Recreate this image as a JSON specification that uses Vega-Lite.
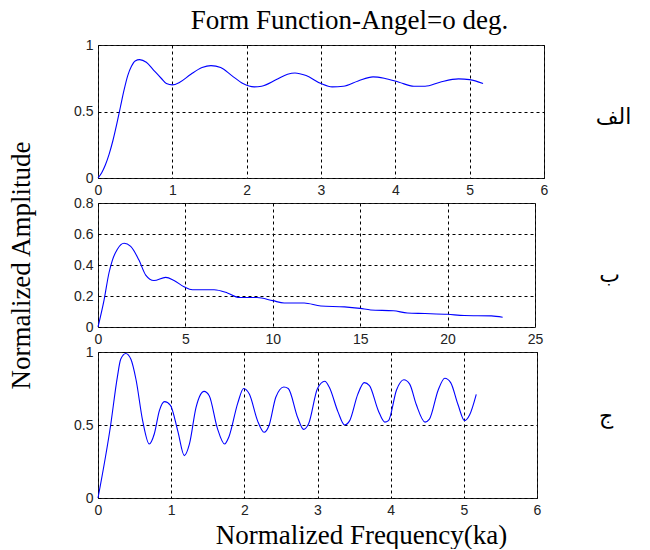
{
  "$schema": "https://vega.github.io/schema/vega-lite/v6.json",
  "padding": {"left": 7, "top": 6, "right": 0, "bottom": 0},
  "background": "white",
  "title": {"text": "Form Function-Angel=o deg.", "font": "Liberation Serif, serif", "fontSize": 27, "fontWeight": "normal", "color": "#000", "anchor": "middle", "dx": 30, "offset": 3},
  "datasets": {
    "a": [
      {"x": 0, "y": 0}, {"x": 0.05, "y": 0.04}, {"x": 0.1, "y": 0.1}, {"x": 0.15, "y": 0.18}, {"x": 0.2, "y": 0.28},
      {"x": 0.25, "y": 0.4}, {"x": 0.3, "y": 0.53}, {"x": 0.35, "y": 0.66}, {"x": 0.4, "y": 0.77}, {"x": 0.45, "y": 0.84},
      {"x": 0.5, "y": 0.88}, {"x": 0.56, "y": 0.89}, {"x": 0.65, "y": 0.87}, {"x": 0.75, "y": 0.81}, {"x": 0.85, "y": 0.75},
      {"x": 0.92, "y": 0.71}, {"x": 1.0, "y": 0.7}, {"x": 1.1, "y": 0.72}, {"x": 1.25, "y": 0.78}, {"x": 1.4, "y": 0.83},
      {"x": 1.52, "y": 0.845}, {"x": 1.65, "y": 0.83}, {"x": 1.8, "y": 0.77}, {"x": 1.95, "y": 0.71}, {"x": 2.1, "y": 0.685},
      {"x": 2.2, "y": 0.69}, {"x": 2.4, "y": 0.74}, {"x": 2.55, "y": 0.78}, {"x": 2.65, "y": 0.79}, {"x": 2.8, "y": 0.77},
      {"x": 3.0, "y": 0.71}, {"x": 3.15, "y": 0.685}, {"x": 3.3, "y": 0.69}, {"x": 3.5, "y": 0.73}, {"x": 3.7, "y": 0.76},
      {"x": 3.85, "y": 0.75}, {"x": 4.05, "y": 0.72}, {"x": 4.25, "y": 0.69}, {"x": 4.4, "y": 0.69}, {"x": 4.6, "y": 0.72},
      {"x": 4.85, "y": 0.745}, {"x": 5.0, "y": 0.74}, {"x": 5.18, "y": 0.71}
    ],
    "b": [
      {"x": 0, "y": 0}, {"x": 0.34, "y": 0.17}, {"x": 0.63, "y": 0.35}, {"x": 0.82, "y": 0.43}, {"x": 1.1, "y": 0.5},
      {"x": 1.49, "y": 0.54}, {"x": 1.87, "y": 0.52}, {"x": 2.35, "y": 0.43}, {"x": 2.73, "y": 0.335}, {"x": 3.2, "y": 0.3},
      {"x": 3.87, "y": 0.32}, {"x": 4.35, "y": 0.3}, {"x": 4.92, "y": 0.26}, {"x": 5.4, "y": 0.24}, {"x": 6.64, "y": 0.24},
      {"x": 7.4, "y": 0.22}, {"x": 8.07, "y": 0.19}, {"x": 9.1, "y": 0.19}, {"x": 10, "y": 0.17}, {"x": 10.65, "y": 0.155},
      {"x": 11.8, "y": 0.155}, {"x": 12.75, "y": 0.135}, {"x": 14.1, "y": 0.13}, {"x": 15, "y": 0.12}, {"x": 15.6, "y": 0.11},
      {"x": 16.9, "y": 0.105}, {"x": 17.7, "y": 0.09}, {"x": 18.7, "y": 0.087}, {"x": 20, "y": 0.082}, {"x": 20.95, "y": 0.074},
      {"x": 22.5, "y": 0.072}, {"x": 23.15, "y": 0.063}
    ],
    "c": [
      {"x": 0, "y": 0}, {"x": 0.17, "y": 0.49}, {"x": 0.265, "y": 0.83}, {"x": 0.31, "y": 0.95}, {"x": 0.38, "y": 0.99},
      {"x": 0.45, "y": 0.95}, {"x": 0.52, "y": 0.81}, {"x": 0.61, "y": 0.53}, {"x": 0.7, "y": 0.37}, {"x": 0.77, "y": 0.44},
      {"x": 0.84, "y": 0.6}, {"x": 0.91, "y": 0.66}, {"x": 0.99, "y": 0.635}, {"x": 1.09, "y": 0.46}, {"x": 1.18, "y": 0.29},
      {"x": 1.25, "y": 0.37}, {"x": 1.34, "y": 0.62}, {"x": 1.45, "y": 0.73}, {"x": 1.52, "y": 0.7}, {"x": 1.63, "y": 0.48},
      {"x": 1.73, "y": 0.37}, {"x": 1.79, "y": 0.42}, {"x": 1.91, "y": 0.65}, {"x": 1.99, "y": 0.75}, {"x": 2.07, "y": 0.71},
      {"x": 2.18, "y": 0.53}, {"x": 2.27, "y": 0.45}, {"x": 2.34, "y": 0.5}, {"x": 2.43, "y": 0.69}, {"x": 2.54, "y": 0.76},
      {"x": 2.6, "y": 0.75}, {"x": 2.73, "y": 0.55}, {"x": 2.81, "y": 0.47}, {"x": 2.88, "y": 0.51}, {"x": 3.0, "y": 0.75},
      {"x": 3.1, "y": 0.8}, {"x": 3.16, "y": 0.76}, {"x": 3.28, "y": 0.59}, {"x": 3.37, "y": 0.5}, {"x": 3.44, "y": 0.53},
      {"x": 3.55, "y": 0.71}, {"x": 3.64, "y": 0.79}, {"x": 3.71, "y": 0.77}, {"x": 3.83, "y": 0.6}, {"x": 3.92, "y": 0.52},
      {"x": 3.97, "y": 0.53}, {"x": 4.08, "y": 0.74}, {"x": 4.18, "y": 0.81}, {"x": 4.26, "y": 0.78}, {"x": 4.35, "y": 0.64},
      {"x": 4.47, "y": 0.52}, {"x": 4.53, "y": 0.54}, {"x": 4.65, "y": 0.74}, {"x": 4.74, "y": 0.82}, {"x": 4.82, "y": 0.79},
      {"x": 4.92, "y": 0.64}, {"x": 5.01, "y": 0.53}, {"x": 5.08, "y": 0.57}, {"x": 5.17, "y": 0.71}
    ]
  },
  "vconcat": [
    {
      "width": 446, "height": 133,
      "data": {"name": "a"},
      "title": {"text": "الف", "orient": "right", "angle": 0, "align": "center", "baseline": "middle", "font": "DejaVu Sans", "fontSize": 22, "fontWeight": "normal", "color": "#000", "offset": 30, "dy": 5},
      "mark": {"type": "line", "color": "#0000ff", "strokeWidth": 1.1, "interpolate": "monotone"},
      "encoding": {
        "x": {"field": "x", "type": "quantitative", "scale": {"domain": [0, 6], "nice": false, "zero": false}, "axis": {"values": [0, 1, 2, 3, 4, 5, 6], "title": null}},
        "y": {"field": "y", "type": "quantitative", "scale": {"domain": [0, 1], "nice": false}, "axis": {"values": [0, 0.5, 1], "title": null}}
      }
    },
    {
      "width": 437, "height": 124,
      "data": {"name": "b"},
      "title": {"text": "ب", "orient": "right", "angle": 0, "align": "center", "baseline": "middle", "font": "DejaVu Sans", "fontSize": 22, "fontWeight": "normal", "color": "#000", "offset": 46, "dy": 10},
      "mark": {"type": "line", "color": "#0000ff", "strokeWidth": 1.1, "interpolate": "monotone"},
      "encoding": {
        "x": {"field": "x", "type": "quantitative", "scale": {"domain": [0, 25], "nice": false}, "axis": {"values": [0, 5, 10, 15, 20, 25], "title": null}},
        "y": {"field": "y", "type": "quantitative", "scale": {"domain": [0, 0.8], "nice": false}, "axis": {"values": [0, 0.2, 0.4, 0.6, 0.8], "title": "Normalized Amplitude", "titlePadding": 38}}
      }
    },
    {
      "width": 439, "height": 146,
      "data": {"name": "c"},
      "title": {"text": "ج", "orient": "right", "angle": 0, "align": "center", "baseline": "middle", "font": "DejaVu Sans", "fontSize": 22, "fontWeight": "normal", "color": "#000", "offset": 51, "dy": -9},
      "mark": {"type": "line", "color": "#0000ff", "strokeWidth": 1.1, "interpolate": "monotone"},
      "encoding": {
        "x": {"field": "x", "type": "quantitative", "scale": {"domain": [0, 6], "nice": false}, "axis": {"values": [0, 1, 2, 3, 4, 5, 6], "title": "Normalized Frequency(ka)", "titlePadding": 5, "titleX": 263, "titleAlign": "center"}},
        "y": {"field": "y", "type": "quantitative", "scale": {"domain": [0, 1], "nice": false}, "axis": {"values": [0, 0.5, 1], "title": null}}
      }
    }
  ],
  "spacing": 25,
  "bounds": "flush",
  "config": {
    "view": {"stroke": "#222", "strokeWidth": 1},
    "axis": {
      "domain": false,
      "ticks": false,
      "labelPadding": 5,
      "labelFont": "Liberation Sans",
      "labelFontSize": 14,
      "labelColor": "#222",
      "format": "~g",
      "grid": true,
      "gridColor": "#000",
      "gridOpacity": 1,
      "gridDash": [3, 3],
      "gridWidth": 1,
      "titleFont": "Liberation Serif, serif",
      "titleFontSize": 27,
      "titleFontWeight": "normal",
      "titleColor": "#000"
    },
    "axisX": {"labelFlush": false},
    "axisY": {"labelFlush": false}
  }
}
